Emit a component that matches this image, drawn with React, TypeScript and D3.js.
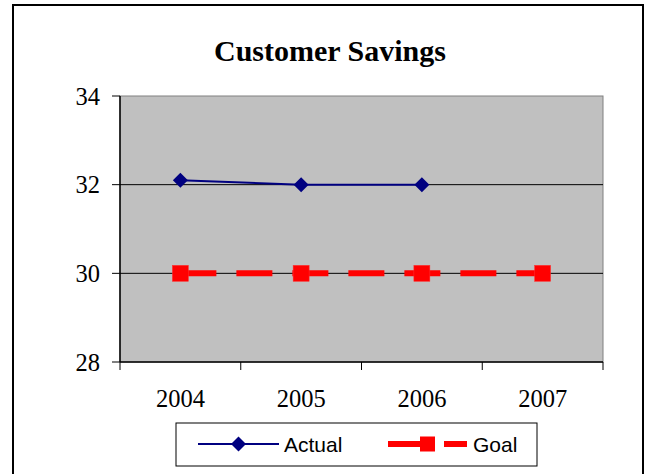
import React from "react";
import * as d3 from "d3";

const years = ["2004", "2005", "2006", "2007"];
const actualValues = [32.1, 32.0, 32.0];
const goalValues = [30, 30, 30, 30];
const yTicks = [28, 30, 32, 34];
const title = "Customer Savings";
const seriesNames = ["Actual", "Goal"];

export default function App() {
  const W = 646, H = 474;
  const left = 120, right = 603, top = 96, bottom = 362;
  const x = d3.scaleBand<string>().domain(years).range([left, right]);
  const y = d3.scaleLinear().domain([28, 34]).range([bottom, top]);
  const cx = (d: string) => (x(d) as number) + x.bandwidth() / 2;

  const line = d3.line<[number, number]>().x((d) => d[0]).y((d) => d[1]);
  const actualPts: [number, number][] = actualValues.map((v, i) => [cx(years[i]), y(v)]);
  const goalPts: [number, number][] = goalValues.map((v, i) => [cx(years[i]), y(v)]);
  const diamond = (px: number, py: number, r: number) =>
    `M${px},${py - r}L${px + r},${py}L${px},${py + r}L${px - r},${py}Z`;
  const serif = "'Liberation Serif', 'Times New Roman', serif";
  const sans = "'Liberation Sans', Arial, sans-serif";
  const boundaries = [...years.map((d) => x(d) as number), right];

  const legY = 444;
  return (
    <svg width={W} height={H} style={{ position: "absolute", left: 0, top: 0 }}>
      <rect x={0} y={0} width={W} height={H} fill="#fff" />
      <rect x={13} y={5} width={630} height={470} fill="#fff" stroke="#000" strokeWidth={2} />
      <text x={330} y={61} textAnchor="middle" fontFamily={serif} fontWeight="bold" fontSize={30}>
        {title}
      </text>
      <rect x={left} y={top} width={right - left} height={bottom - top} fill="#c0c0c0" stroke="#808080" strokeWidth={1} />
      {yTicks.filter((t) => t !== 28 && t !== 34).map((t) => (
        <line key={t} x1={left} x2={right} y1={y(t)} y2={y(t)} stroke="#000" strokeWidth={1} />
      ))}
      <line x1={left} x2={left} y1={top} y2={bottom} stroke="#000" strokeWidth={1.5} />
      <line x1={left} x2={right} y1={bottom} y2={bottom} stroke="#000" strokeWidth={1.5} />
      {yTicks.map((t) => (
        <g key={t}>
          <line x1={left - 8} x2={left} y1={y(t)} y2={y(t)} stroke="#000" />
          <text x={100} y={y(t) + 8.5} textAnchor="end" fontFamily={serif} fontSize={24.5}>
            {t}
          </text>
        </g>
      ))}
      {boundaries.map((b, i) => (
        <line key={i} x1={b} x2={b} y1={bottom} y2={bottom + 8} stroke="#000" />
      ))}
      {years.map((d) => (
        <text key={d} x={cx(d)} y={407} textAnchor="middle" fontFamily={serif} fontSize={24.5}>
          {d}
        </text>
      ))}
      <path d={line(goalPts) || ""} fill="none" stroke="#ff0000" strokeWidth={6} strokeDasharray="36,20" />
      {goalPts.map((p, i) => (
        <rect key={i} x={p[0] - 8} y={p[1] - 8} width={16} height={16} fill="#ff0000" stroke="#ff3030" strokeWidth={0.5} />
      ))}
      <path d={line(actualPts) || ""} fill="none" stroke="#000080" strokeWidth={2} />
      {actualPts.map((p, i) => (
        <path key={i} d={diamond(p[0], p[1], 7.5)} fill="#000080" />
      ))}
      <rect x={176} y={423} width={361} height={43} fill="#fff" stroke="#000" strokeWidth={1} />
      <line x1={198} x2={279} y1={legY} y2={legY} stroke="#000080" strokeWidth={2} />
      <path d={diamond(238.5, legY, 7.5)} fill="#000080" />
      <text x={284} y={legY + 7.5} fontFamily={sans} fontSize={21}>
        {seriesNames[0]}
      </text>
      <line x1={388} x2={467} y1={legY} y2={legY} stroke="#ff0000" strokeWidth={6} strokeDasharray="36,20" />
      <rect x={420} y={legY - 7.5} width={15} height={15} fill="#ff0000" />
      <text x={473} y={legY + 7.5} fontFamily={sans} fontSize={21}>
        {seriesNames[1]}
      </text>
    </svg>
  );
}
